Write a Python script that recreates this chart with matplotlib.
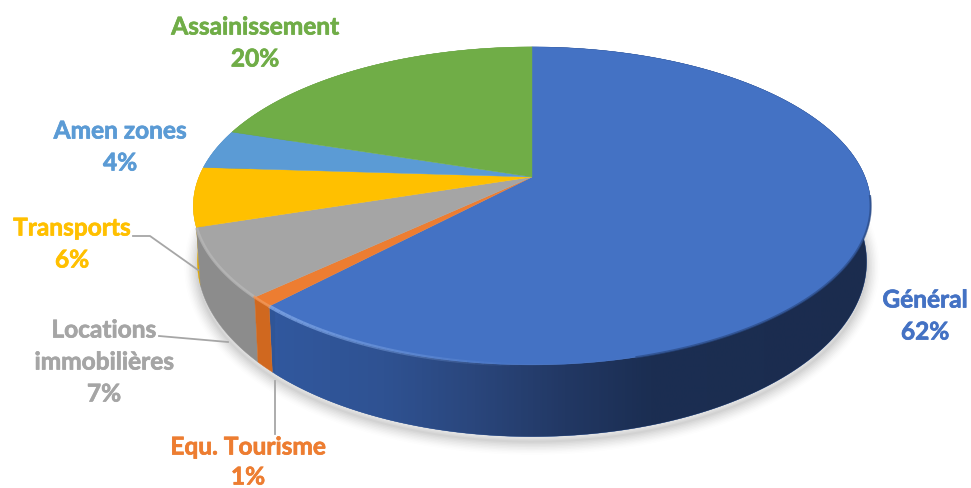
import numpy as np
import matplotlib
matplotlib.use("Agg")
import matplotlib.pyplot as plt
import matplotlib.patheffects as pe
from matplotlib.collections import LineCollection
from matplotlib.colors import LinearSegmentedColormap

categories = ["Général", "Equ. Tourisme", "Locations\nimmobilières", "Transports", "Amen zones", "Assainissement"]
shares = [62, 1, 7, 6, 4, 20]
top_colors = ["#4472C4", "#ED7D31", "#A5A5A5", "#FFC000", "#5B9BD5", "#70AD47"]
side_colors = ["#2F5597", "#D0681F", "#8C8C8C", "#E0A800", "#4A86BE", "#5E9438"]

W, H = 971, 488
CX = 532
PERSPECTIVE = 0.182
TOP_Y, TOP_A, TOP_B = 177, 153.7, 333
BASE_Y, BASE_A, BASE_B = 230, 169, 329


def rim(theta, cy, a, b):
    """Project a rim point, clockwise from twelve o'clock, into pixel space."""
    u, v = np.sin(theta), -np.cos(theta)
    d = 1 - PERSPECTIVE * v
    return CX + b * u / d, cy + a * v / d


def top_rim(theta):
    return rim(theta, TOP_Y, TOP_A, TOP_B)


def base_rim(theta):
    return rim(theta, BASE_Y, BASE_A, BASE_B)


fig = plt.figure(figsize=(W / 100, H / 100), dpi=100)
ax = fig.add_axes([0, 0, 1, 1])
ax.set_xlim(0, W)
ax.set_ylim(H, 0)
ax.axis("off")

# Soft drop shadow below the disc
all_t = np.linspace(0, 2 * np.pi, 500)
bx, by = base_rim(all_t)
for width, alpha in zip(np.arange(26, 1, -3), np.linspace(0.012, 0.05, 9)):
    ax.plot(bx, by + 5, color="#555555", lw=width * 0.72, alpha=alpha, zorder=1, solid_capstyle="round")

edges = np.concatenate([[0], np.cumsum(shares)]) / sum(shares) * 2 * np.pi

# Horizontal shading of the main slice's wall: lighter on the left, dark to the right
blue_wall = LinearSegmentedColormap.from_list(
    "blue_wall",
    [(0.0, "#31589E"), (0.18, "#2F5292"), (0.33, "#2A467C"),
     (0.48, "#223864"), (0.62, "#1B2E52"), (1.0, "#1B2C4E")],
)

# Side walls, one slice at a time from the back of the disc to the front
order = [5, 4, 3, 0, 2, 1]
for i in order:
    ts = np.linspace(edges[i], edges[i + 1], max(6, int((edges[i + 1] - edges[i]) * 90)))
    tx, ty = top_rim(ts)
    bx2, by2 = base_rim(ts[::-1])
    poly = ax.fill(np.r_[tx, bx2], np.r_[ty, by2], facecolor=side_colors[i],
                   edgecolor=side_colors[i], lw=0.3, zorder=2)[0]
    if i == 0:
        grad = np.linspace(0, 1, 600).reshape(1, -1)
        img = ax.imshow(grad, cmap=blue_wall, extent=(275, 880, 460, 40), aspect="auto", zorder=2)
        img.set_clip_path(poly)
ax.set_xlim(0, W)
ax.set_ylim(H, 0)

# Top face wedges meeting at the projected centre
for i, colour in enumerate(top_colors):
    ts = np.linspace(edges[i], edges[i + 1], max(4, int((edges[i + 1] - edges[i]) * 90)))
    xs, ys = top_rim(ts)
    ax.fill(np.r_[CX, xs], np.r_[TOP_Y, ys], facecolor=colour, edgecolor=colour, lw=0.3, zorder=3)

# Bevel highlight along the front rim
ts = np.linspace(edges[0] + np.radians(30), edges[1], 160)
xs, ys = top_rim(ts)
pts = np.column_stack([xs, ys])
segs = np.stack([pts[:-1], pts[1:]], axis=1)
fade = np.clip((520 - (xs[:-1] + xs[1:]) / 2) / 240, 0, 1)
colors = np.zeros((len(segs), 4))
colors[:, :3] = matplotlib.colors.to_rgb("#7FA6E6")
colors[:, 3] = fade * 0.8
ax.add_collection(LineCollection(segs, colors=colors, linewidths=2.6, zorder=4))

ts = np.linspace(edges[2], edges[3], 40)
ax.plot(*top_rim(ts[:-2] + 0.01), color="#B9B9B9", lw=2.2, alpha=0.7, zorder=4)
ts = np.linspace(edges[1], edges[2], 40)
ax.plot(*top_rim(ts), color="#F29A5E", lw=2, alpha=0.7, zorder=4)

# Soft transition where the top face meets the right-hand wall
ts = np.linspace(np.radians(97), np.radians(165), 100)
xs, ys = top_rim(ts)
ax.plot(xs, ys, color="#2A4A85", lw=1.6, alpha=0.7, zorder=4)

# Leader lines
leaders = [
    ([133, 150, 198], [236, 236, 270]),
    ([159, 228], [336, 342]),
    ([275, 275], [381, 434]),
]
for lx, ly in leaders:
    ax.plot(lx, ly, color="#A6A6A6", lw=1.3, zorder=5)

# Category labels with their shares
label_positions = [(925, 300), (248, 447), (104, 330), (72, 228), (120, 131), (255, 27)]
LINE_GAP = 32
for name, share, colour, (lx, ly) in zip(categories, shares, top_colors, label_positions):
    lines = name.split("\n") + [f"{share}%"]
    gap = 30 if name == "Equ. Tourisme" else LINE_GAP
    for k, line in enumerate(lines):
        ax.text(lx, ly + k * gap, line, color=colour, family="Lato", weight="bold",
                fontsize=17.6, ha="center", va="center", zorder=6,
                path_effects=[pe.withStroke(linewidth=0.5, foreground=colour)])

fig.savefig("out.png", dpi=100)
